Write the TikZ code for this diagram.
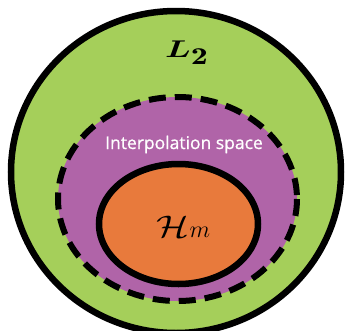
\RequirePackage{fix-cm}
\documentclass[tikz,border=0pt]{standalone}
\usepackage{amsmath}
\usepackage{graphicx}
\usepackage{xcolor}
\usepackage{fontspec}
\usepackage{tikz}
\newfontfamily\spacefont{Open Sans}[FakeBold=0.8]
\definecolor{ltwogreen}{RGB}{165,207,90}
\definecolor{interpurple}{RGB}{176,100,168}
\definecolor{hmorange}{RGB}{232,122,60}

\begin{document}
\begin{tikzpicture}[x=1pt,y=-1pt,
  region/.style={draw=black,line width=6.5pt},
  boundary/.style={draw=black,line width=6pt,dash pattern=on 17pt off 9pt}]
  \useasboundingbox (0,0) rectangle (346,330);
  \fill[ltwogreen] (176,172) ellipse [x radius=165, y radius=161];
  \draw[region] (176,172) ellipse [x radius=165, y radius=161];
  \fill[interpurple] (177.5,199) ellipse [x radius=119.5, y radius=102];
  \draw[boundary] (177.5,199) ellipse [x radius=119.5, y radius=102];
  \fill[hmorange] (178.5,224) ellipse [x radius=79.5, y radius=60];
  \draw[region] (178.5,224) ellipse [x radius=79.5, y radius=60];
  \node[anchor=base,inner sep=0pt,font=\fontsize{22}{22}\selectfont] (ltwo) at (187,57) {\scalebox{1.55}[1.1]{$\boldsymbol{L}_{\textstyle\mathbf{2}}$}};
  \node[anchor=base,inner sep=0pt,text=white,font=\spacefont\fontsize{17.5}{18}\selectfont] (interp) at (184,149) {Interpolation space};
  \node[anchor=base,inner sep=0pt,font=\fontsize{24}{24}\selectfont] (hm) at (183.5,237) {\scalebox{1.6}[1.3]{$\mathcal{H}$}$m$};
\end{tikzpicture}
\end{document}
